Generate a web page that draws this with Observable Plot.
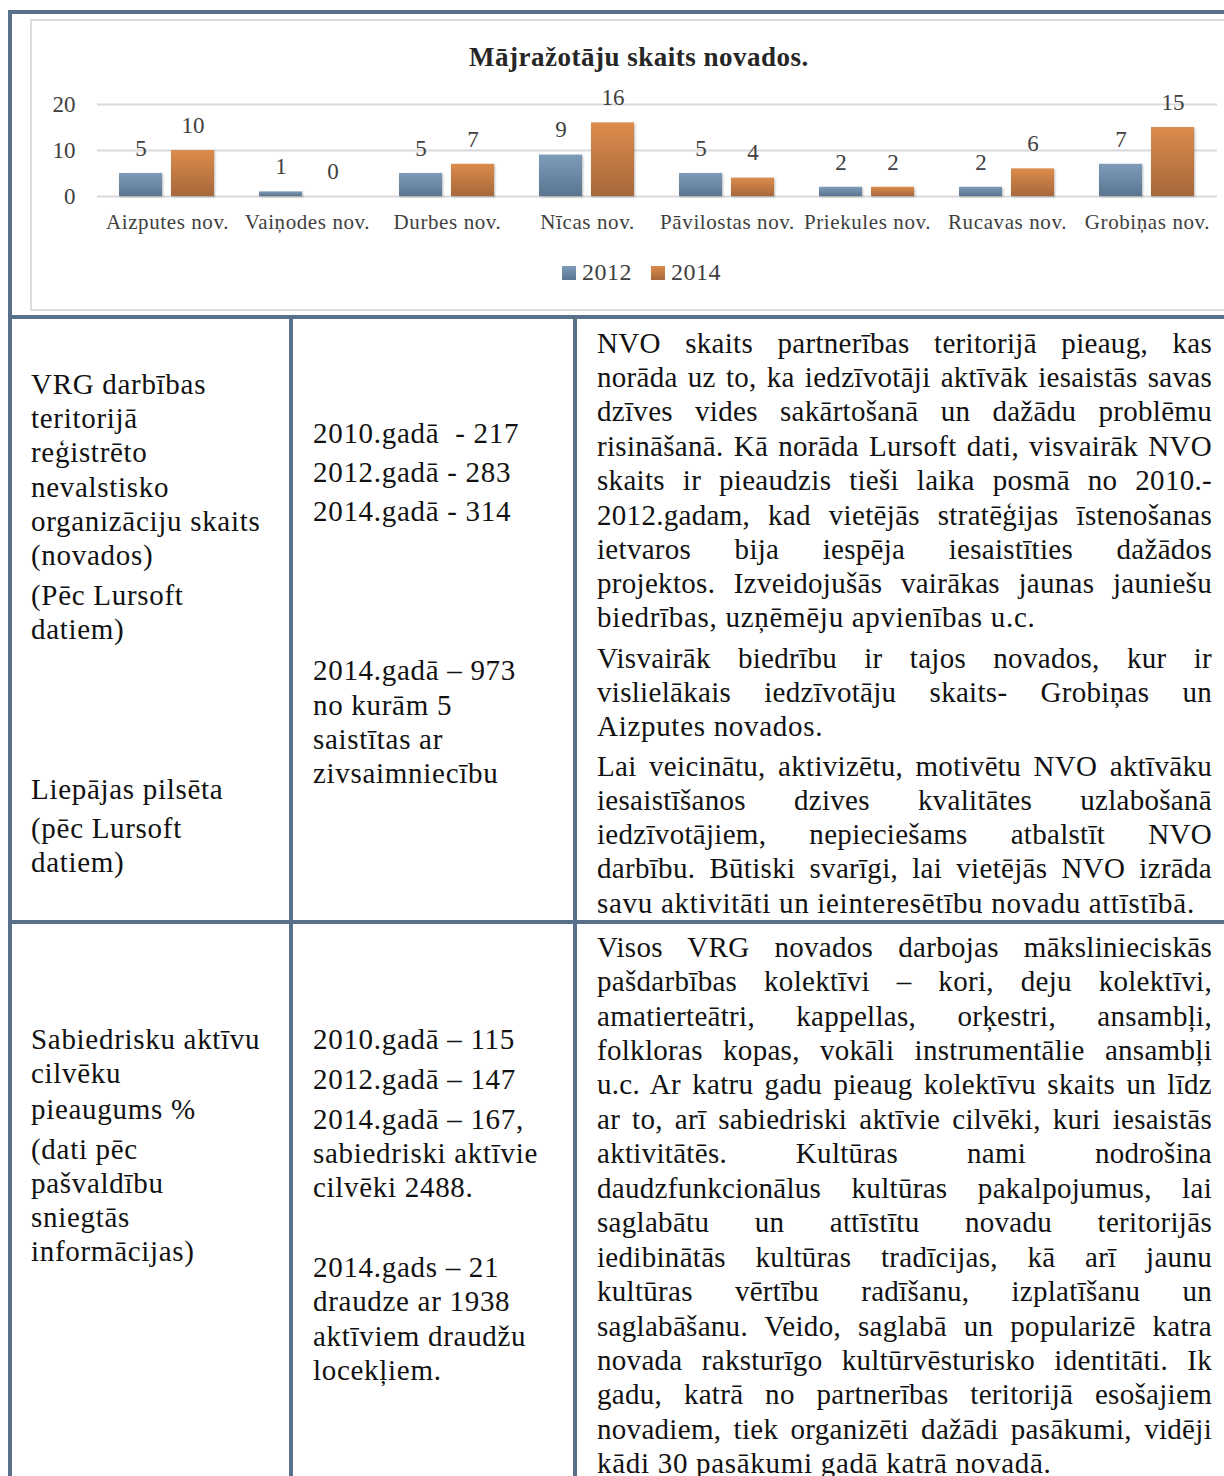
<!DOCTYPE html>
<html>
<head>
<meta charset="utf-8">
<script src="https://cdn.jsdelivr.net/npm/d3@7"></script>
<script src="https://cdn.jsdelivr.net/npm/@observablehq/plot@0.6"></script>
<style>
  html, body { margin: 0; padding: 0; background: #fff; overflow: hidden; }
  #page { position: relative; width: 1224px; height: 1476px; overflow: hidden; font-family: "Liberation Serif", serif; }
  .b { position: absolute; background: #587089; }
  #frame { position: absolute; left: 30px; top: 19px; width: 1250px; height: 288px; border: 2px solid #dcdcdc; }
  #title { position: absolute; left: 339px; width: 600px; top: 42px; text-align: center; font-weight: bold; font-size: 27px; letter-spacing: 0.5px; color: #262626; }
  #chart { position: absolute; left: 0; top: 0; }
  #legend { position: absolute; left: 562px; top: 256px; }
  #legend, #legend * { font-family: "Liberation Serif", serif !important; font-size: 24px !important; letter-spacing: 0.5px; color: #404040; }
  #legend span { margin-right: 19px !important; display: inline-flex; align-items: center; }
  #legend span svg { margin-right: 6px !important; }
  .ln { position: absolute; font-size: 29px; line-height: 34px; height: 34px; color: #111; white-space: pre; letter-spacing: 0.7px; }
  .j { white-space: normal; text-align: justify; text-align-last: justify; width: 615px; letter-spacing: 0.3px; }
  g[aria-label="bar"] rect { filter: drop-shadow(1px 1px 1.2px rgba(0,0,0,0.28)); }
  g[aria-label="fx-axis tick label"] text { letter-spacing: 0.6px; }
</style>
</head>
<body>
<div id="page">
  <div id="frame"></div>
  <div id="title">Mājražotāju skaits novados.</div>
  <div id="chart"></div>
  <div id="legend"></div>
</div>
<script>
// ---- chart data ----
const categories = ["Aizputes nov.", "Vaiņodes nov.", "Durbes nov.", "Nīcas nov.", "Pāvilostas nov.", "Priekules nov.", "Rucavas nov.", "Grobiņas nov."];
const years = ["2012", "2014"];
const values2012 = [5, 1, 5, 9, 5, 2, 2, 7];
const values2014 = [10, 0, 7, 16, 4, 2, 6, 15];
const yTicks = [0, 10, 20];

// ---- table text ----
const leftRow2 = [
  ["VRG darbības", 385], ["teritorijā", 419], ["reģistrēto", 453], ["nevalstisko", 488],
  ["organizāciju skaits", 522], ["(novados)", 556], ["(Pēc Lursoft", 596], ["datiem)", 630],
  ["Liepājas pilsēta", 790], ["(pēc Lursoft", 829], ["datiem)", 863]
];
const midRow2 = [
  ["2010.gadā  - 217", 434], ["2012.gadā - 283", 473], ["2014.gadā - 314", 512],
  ["2014.gadā – 973", 671], ["no kurām 5", 706], ["saistītas ar", 740], ["zivsaimniecību", 774]
];
const rightRow2 = [
  ["NVO skaits partnerības teritorijā pieaug, kas", 344, true],
  ["norāda uz to, ka iedzīvotāji aktīvāk iesaistās savas", 378, true],
  ["dzīves vides sakārtošanā un dažādu problēmu", 412, true],
  ["risināšanā.  Kā norāda Lursoft dati, visvairāk NVO", 447, true],
  ["skaits ir pieaudzis tieši laika posmā no 2010.-", 481, true],
  ["2012.gadam, kad vietējās stratēģijas īstenošanas", 516, true],
  ["ietvaros bija iespēja iesaistīties dažādos", 550, true],
  ["projektos. Izveidojušās vairākas jaunas jauniešu", 584, true],
  ["biedrības, uzņēmēju apvienības u.c.", 618, false],
  ["Visvairāk biedrību ir tajos novados, kur ir", 659, true],
  ["vislielākais iedzīvotāju skaits- Grobiņas un", 693, true],
  ["Aizputes novados.", 727, false],
  ["Lai veicinātu, aktivizētu, motivētu NVO aktīvāku", 767, true],
  ["iesaistīšanos dzives kvalitātes uzlabošanā", 801, true],
  ["iedzīvotājiem, nepieciešams atbalstīt NVO", 835, true],
  ["darbību. Būtiski svarīgi, lai vietējās NVO izrāda", 869, true],
  ["savu aktivitāti un ieinteresētību novadu attīstībā.", 904, false]
];
const leftRow3 = [
  ["Sabiedrisku aktīvu", 1040], ["cilvēku", 1074], ["pieaugums %", 1110], ["(dati pēc", 1150],
  ["pašvaldību", 1184], ["sniegtās", 1218], ["informācijas)", 1252]
];
const midRow3 = [
  ["2010.gadā – 115", 1040], ["2012.gadā – 147", 1080], ["2014.gadā – 167,", 1120],
  ["sabiedriski aktīvie", 1154], ["cilvēki 2488.", 1188],
  ["2014.gads – 21", 1268], ["draudze ar 1938", 1302], ["aktīviem draudžu", 1337], ["locekļiem.", 1371]
];
const rightRow3 = [
  ["Visos VRG novados darbojas mākslinieciskās", 948, true],
  ["pašdarbības kolektīvi – kori, deju kolektīvi,", 982, true],
  ["amatierteātri, kappellas, orķestri, ansambļi,", 1017, true],
  ["folkloras kopas, vokāli instrumentālie ansambļi", 1051, true],
  ["u.c. Ar katru gadu pieaug kolektīvu skaits un līdz", 1085, true],
  ["ar to, arī sabiedriski aktīvie cilvēki, kuri iesaistās", 1120, true],
  ["aktivitātēs. Kultūras nami nodrošina", 1154, true],
  ["daudzfunkcionālus kultūras pakalpojumus, lai", 1189, true],
  ["saglabātu un attīstītu novadu teritorijās", 1223, true],
  ["iedibinātās kultūras tradīcijas, kā arī jaunu", 1258, true],
  ["kultūras vērtību radīšanu, izplatīšanu un", 1292, true],
  ["saglabāšanu. Veido, saglabā un popularizē katra", 1327, true],
  ["novada raksturīgo kultūrvēsturisko identitāti. Ik", 1361, true],
  ["gadu, katrā no partnerības teritorijā esošajiem", 1395, true],
  ["novadiem, tiek organizēti dažādi pasākumi, vidēji", 1430, true],
  ["kādi 30 pasākumi gadā katrā novadā.", 1464, false]
];

// ---- build chart ----
const data = categories.flatMap((c, i) => [
  {cat: c, year: years[0], value: values2012[i]},
  {cat: c, year: years[1], value: values2014[i]}
]);

const plot = Plot.plot({
  width: 1224,
  height: 300,
  marginLeft: 96,
  marginRight: 7,
  marginTop: 104,
  marginBottom: 104,
  style: {background: "transparent", fontFamily: "Liberation Serif, serif", color: "#404040", overflow: "visible"},
  fx: {domain: categories, padding: 0, label: null},
  x: {domain: years, paddingInner: 0.17, paddingOuter: 0.406, axis: null},
  y: {domain: [0, 20]},
  color: {domain: years, range: ["url(#g2012)", "url(#g2014)"]},
  marks: [
    Plot.gridY(yTicks, {stroke: "#d9d9d9", strokeWidth: 2, strokeOpacity: 1}),
    Plot.axisY(yTicks, {tickSize: 0, tickPadding: 22, fontSize: 23, label: null}),
    Plot.axisFx({anchor: "bottom", tickSize: 0, tickPadding: 18, fontSize: 21, label: null}),
    Plot.barY(data, {fx: "cat", x: "year", y: "value", fill: "year"}),
    Plot.text(data, {fx: "cat", x: "year", y: "value", text: d => String(d.value), dy: -25, fontSize: 23, fill: "#404040"})
  ]
});

const ns = "http://www.w3.org/2000/svg";
const defs = document.createElementNS(ns, "defs");
[["g2012", "#7d9cb9", "#5a7590"], ["g2014", "#dc8c4c", "#a7673a"]].forEach(([id, c1, c2]) => {
  const g = document.createElementNS(ns, "linearGradient");
  g.setAttribute("id", id);
  g.setAttribute("x1", "0"); g.setAttribute("y1", "0");
  g.setAttribute("x2", "0"); g.setAttribute("y2", "1");
  [[0, c1], [1, c2]].forEach(([o, c]) => {
    const s = document.createElementNS(ns, "stop");
    s.setAttribute("offset", o);
    s.setAttribute("stop-color", c);
    g.appendChild(s);
  });
  defs.appendChild(g);
});
plot.insertBefore(defs, plot.firstChild);
document.getElementById("chart").appendChild(plot);

const leg = plot.legend("color", {swatchSize: 14});
document.getElementById("legend").appendChild(leg);

// ---- table borders ----
const page = document.getElementById("page");
function box(l, t, w, h) {
  const d = document.createElement("div");
  d.className = "b";
  Object.assign(d.style, {left: l + "px", top: t + "px", width: w + "px", height: h + "px"});
  page.appendChild(d);
}
box(8, 10, 1300, 4);
box(8, 10, 4, 1500);
box(8, 315, 1300, 4);
box(289, 315, 4, 1200);
box(573, 315, 4, 1200);
box(8, 920, 1300, 4);

// ---- text lines ----
function lines(arr, x) {
  arr.forEach(([t, y, j]) => {
    const d = document.createElement("div");
    d.className = "ln" + (j ? " j" : "");
    d.textContent = t;
    d.style.left = x + "px";
    d.style.top = (y - 18) + "px";
    page.appendChild(d);
  });
}
lines(leftRow2, 31);
lines(midRow2, 313);
lines(rightRow2, 597);
lines(leftRow3, 31);
lines(midRow3, 313);
lines(rightRow3, 597);
</script>
</body>
</html>
